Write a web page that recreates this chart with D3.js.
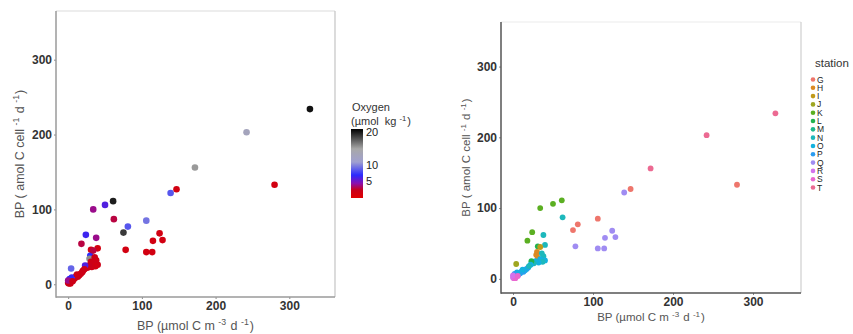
<!DOCTYPE html>
<html>
<head>
<meta charset="utf-8">
<script src="https://cdn.jsdelivr.net/npm/d3@7"></script>
<style>
  body { margin: 0; background: #fff; }
  svg { display: block; font-family: "Liberation Sans", Arial, sans-serif; }
</style>
</head>
<body>
<div id="chart"></div>
<script>
// BP per volume (x), BP per cell (y), oxygen and station for each sample
const bpVolume = [328, 242, 172, 280, 139, 147, 61, 50, 34, 62, 106, 81, 75, 124, 128, 115, 106, 114, 78,
  24, 18, 38, 4, 31, 40, 30, 29, 31, 36, 38, 40, 34, 37, 32, 28, 26, 23, 22, 19, 17, 15, 13, 11, 9, 7, 5, 3, 2, 1, 0, 3, 2, 12, 20, 34, 0, 6];
const bpCell = [234, 203, 156, 133, 122, 127, 111, 106, 100, 87, 85, 77, 69, 68, 59, 58, 43, 43, 46,
  66, 54, 62, 21, 46, 48, 38, 34, 30, 36, 32, 26, 28, 24, 23, 25, 22, 25, 20, 16, 14, 12, 10, 11, 8, 6, 9, 5, 3, 1, 2, 1, 7, 13, 18, 45, 5, 4];
const oxygen = [20.5, 13, 15.5, 1.5, 8.5, 1.5, 20, 6, 4, 3, 9.5, 8.5, 19, 1.5, 1.5, 1.5, 1.5, 1.5, 1.5,
  6.5, 3, 4, 9, 1.5, 1.5, 7, 16, 2, 2, 2, 2, 2, 1.5, 2, 2.5, 2, 6, 2, 2, 2, 2, 2, 2, 2.5, 2, 6.5, 2, 3, 2, 2, 2, 7, 2, 2, 3, 4, 2];
const station = ['T', 'T', 'T', 'G', 'Q', 'G', 'K', 'K', 'K', 'N', 'G', 'G', 'G', 'Q', 'Q', 'Q', 'Q', 'Q', 'Q',
  'K', 'K', 'N', 'J', 'L', 'N', 'H', 'H', 'H', 'N', 'N', 'O', 'O', 'N', 'O', 'O', 'N', 'L', 'O', 'O', 'P', 'O', 'P', 'O', 'P', 'O', 'O', 'P', 'R', 'S', 'R', 'S', 'P', 'O', 'N', 'I', 'R', 'S'];

const stations = ['G', 'H', 'I', 'J', 'K', 'L', 'M', 'N', 'O', 'P', 'Q', 'R', 'S', 'T'];
const stationColors = ['#ee766c', '#dc8a22', '#c09a1a', '#9fa620', '#5baf22', '#22b24f', '#1db88c',
  '#1db8bc', '#14b2df', '#2a9cf0', '#a08cf2', '#d472ec', '#ea66cf', '#ec6a92'];

const oxygenStops = [0, 2.5, 4.5, 7, 11, 15, 21.1];
const oxygenStopColors = ['#e00000', '#c8001c', '#8a10b0', '#2a2aff', '#a0a0d0', '#a8a8a8', '#000000'];
const oxygenTicks = [5, 10, 20];

const xTicks = [0, 100, 200, 300];
const yTicks = [0, 100, 200, 300];

const points = bpVolume.map((v, i) => ({ x: v, y: bpCell[i], o2: oxygen[i], st: station[i] }));

const oxygenColor = d3.scaleLinear().domain(oxygenStops).range(oxygenStopColors);
const stationColor = d3.scaleOrdinal().domain(stations).range(stationColors);

const svg = d3.select('#chart').append('svg')
  .attr('width', 853)
  .attr('height', 334);

function superText(sel, parts, size) {
  // parts: [text, isSuperscript]
  parts.forEach(p => {
    if (p[1]) {
      sel.append('tspan').attr('dy', -size * 0.38).attr('font-size', size * 0.7).text(p[0]);
      sel.append('tspan').attr('dy', size * 0.38).text('\u200a');
    } else {
      sel.append('tspan').text(p[0]);
    }
  });
}

function drawPanel(opts) {
  const x = d3.scaleLinear().domain(opts.xDomain).range([opts.left, opts.right]);
  const y = d3.scaleLinear().domain(opts.yDomain).range([opts.bottom, opts.top]);
  const g = svg.append('g');

  // frame
  g.append('line').attr('x1', opts.left).attr('x2', opts.right).attr('y1', opts.top).attr('y2', opts.top)
    .attr('stroke', opts.topStroke).attr('stroke-width', 1.2);
  g.append('line').attr('x1', opts.right).attr('x2', opts.right).attr('y1', opts.top).attr('y2', opts.bottom)
    .attr('stroke', opts.rightStroke).attr('stroke-width', 1.2);

  const xAxis = g.append('g')
    .attr('transform', 'translate(0,' + opts.bottom + ')')
    .call(d3.axisBottom(x).tickValues(xTicks).tickSize(2).tickPadding(2).tickFormat(d3.format('d')));
  const yAxis = g.append('g')
    .attr('transform', 'translate(' + opts.left + ',0)')
    .call(d3.axisLeft(y).tickValues(yTicks).tickSize(2).tickPadding(2).tickFormat(d3.format('d')));

  [xAxis, yAxis].forEach(a => {
    a.select('.domain').remove();
    a.selectAll('.tick line').attr('stroke', '#888');
    a.selectAll('.tick text')
      .attr('fill', '#333')
      .attr('font-size', 12)
      .attr('font-weight', 'bold')
      .attr('font-family', '"Liberation Sans", Arial, sans-serif');
  });

  g.append('line').attr('x1', opts.left).attr('x2', opts.left).attr('y1', opts.top).attr('y2', opts.bottom + 0.75)
    .attr('stroke', opts.axisStroke).attr('stroke-width', 1.5);
  g.append('line').attr('x1', opts.left).attr('x2', opts.right).attr('y1', opts.bottom).attr('y2', opts.bottom)
    .attr('stroke', opts.axisStroke).attr('stroke-width', 1.5);

  g.selectAll('circle.pt')
    .data(points)
    .enter().append('circle')
    .attr('class', 'pt')
    .attr('cx', d => x(d.x))
    .attr('cy', d => y(d.y))
    .attr('r', opts.radius)
    .attr('fill', opts.fill);

  // axis titles
  const xt = g.append('text')
    .attr('x', (opts.left + opts.right) / 2)
    .attr('y', opts.xTitleY)
    .attr('text-anchor', 'middle')
    .attr('fill', '#555')
    .attr('font-size', opts.titleSize);
  superText(xt, [['BP (\u00b5mol C m '], ['-3', true], [' d '], ['-1', true], [')']], opts.titleSize);

  const yt = g.append('text')
    .attr('transform', 'translate(' + opts.yTitleX + ',' + ((opts.top + opts.bottom) / 2) + ') rotate(-90)')
    .attr('text-anchor', 'middle')
    .attr('fill', '#555')
    .attr('font-size', opts.titleSize);
  superText(yt, [['BP ( amol C cell '], ['-1', true], [' d '], ['-1', true], [')']], opts.titleSize);
}

drawPanel({
  left: 56, right: 335, top: 11, bottom: 297,
  xDomain: [-16.5, 362], yDomain: [-17, 365],
  topStroke: '#dcdcdc', rightStroke: '#c4c4c4', axisStroke: '#9a9a9a',
  radius: 3.3, fill: d => oxygenColor(d.o2),
  xTitleY: 330, yTitleX: 24, titleSize: 12.5
});

drawPanel({
  left: 501, right: 801, top: 22, bottom: 293,
  xDomain: [-15, 360], yDomain: [-20, 363],
  topStroke: '#ececec', rightStroke: '#cfcfcf', axisStroke: '#555',
  radius: 2.9, fill: d => stationColor(d.st),
  xTitleY: 321, yTitleX: 470, titleSize: 11.5
});

// oxygen colour bar
const barY = d3.scaleLinear().domain([0, 21.1]).range([198, 129]);
const defs = svg.append('defs');
const grad = defs.append('linearGradient')
  .attr('id', 'oxyGrad')
  .attr('x1', '0%').attr('y1', '100%')
  .attr('x2', '0%').attr('y2', '0%');
oxygenStops.forEach((s, i) => {
  grad.append('stop')
    .attr('offset', (s / 21.1 * 100) + '%')
    .attr('stop-color', oxygenStopColors[i]);
});

const oxLegend = svg.append('g');
oxLegend.append('text').attr('x', 352).attr('y', 111)
  .attr('font-size', 11).attr('fill', '#333').text('Oxygen');
const unit = oxLegend.append('text').attr('x', 351).attr('y', 125)
  .attr('font-size', 11).attr('fill', '#333');
superText(unit, [['(\u00b5mol\u00a0\u00a0kg '], ['-1', true], [')']], 11);

oxLegend.append('rect')
  .attr('x', 351).attr('y', barY(21.1))
  .attr('width', 12).attr('height', barY(0) - barY(21.1))
  .attr('fill', 'url(#oxyGrad)');

oxLegend.selectAll('text.tk')
  .data(oxygenTicks)
  .enter().append('text')
  .attr('class', 'tk')
  .attr('x', 366)
  .attr('y', d => barY(d))
  .attr('dy', '0.35em')
  .attr('font-size', 11)
  .attr('fill', '#222')
  .text(d => d);

// station legend
const stLegend = svg.append('g');
stLegend.append('text').attr('x', 815).attr('y', 67)
  .attr('font-size', 11.5).attr('fill', '#333').text('station');

const keyY = d3.scalePoint().domain(stations).range([79.5, 187.5]);
const item = stLegend.selectAll('g.item')
  .data(stations)
  .enter().append('g')
  .attr('class', 'item')
  .attr('transform', d => 'translate(0,' + keyY(d) + ')');
item.append('circle').attr('cx', 813).attr('r', 2.3).attr('fill', d => stationColor(d));
item.append('text').attr('x', 817).attr('y', 3)
  .attr('font-size', 8.5).attr('fill', '#222').text(d => d);
</script>
</body>
</html>
